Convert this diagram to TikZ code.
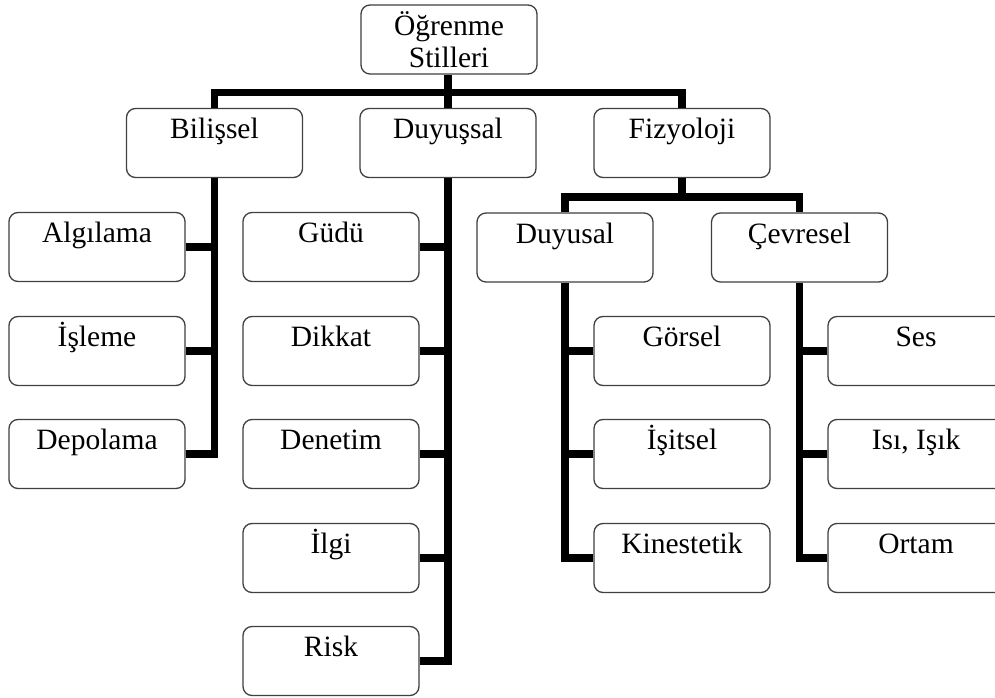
\documentclass[tikz,border=0pt]{standalone}
\usepackage{fontspec}
\setmainfont{Liberation Serif}
\begin{document}
\begin{tikzpicture}[x=1pt,y=-1pt,
  box/.style={draw=black!75, line width=1.3pt, rounded corners=9pt, fill=white,
    minimum width=176pt, minimum height=69pt, inner xsep=2pt, inner ysep=4pt,
    font=\fontsize{29.5}{32}\selectfont},
  onebox/.style={box, text height=26pt, text depth=35pt},
  conn/.style={line width=7.5pt, line join=miter, draw=black}]
\useasboundingbox (0,0) rectangle (995,698);
\clip (0,0) rectangle (995,698);
\fill[white] (0,0) rectangle (995,698);
% nodes
\node[box, align=center] (root) at (449,39.5) {Öğrenme\\Stilleri};
\node[onebox] (bil) at (214.5,143) {Bilişsel};
\node[onebox] (duy) at (448,143) {Duyuşsal};
\node[onebox] (fiz) at (682,143) {Fizyoloji};
\node[onebox] (alg) at (97,247) {Algılama};
\node[onebox] (isl) at (97,351) {İşleme};
\node[onebox] (dep) at (97,454) {Depolama};
\node[onebox] (gud) at (331,247) {Güdü};
\node[onebox] (dik) at (331,351) {Dikkat};
\node[onebox] (den) at (331,454) {Denetim};
\node[onebox] (ilg) at (331,558) {İlgi};
\node[onebox] (ris) at (331,661) {Risk};
\node[onebox] (dus) at (565,247.5) {Duyusal};
\node[onebox] (cev) at (799.5,247.5) {Çevresel};
\node[onebox] (gor) at (682,351) {Görsel};
\node[onebox] (isi) at (682,454) {İşitsel};
\node[onebox] (kin) at (682,558) {Kinestetik};
\node[onebox] (ses) at (916,351) {Ses};
\node[onebox] (isk) at (916,454) {Isı, Işık};
\node[onebox] (ort) at (916,558) {Ortam};
% bus coordinates
\coordinate (bus1) at (0,92.5);
\coordinate (bus2) at (0,197);
% top level connectors
\draw[conn] (root.south -| duy.north) -- (duy.north);
\draw[conn] (bil.north) -- (bil.north |- bus1) -- (fiz.north |- bus1) -- (fiz.north);
% Bilişsel
\draw[conn] (bil.south) |- (dep.east);
\draw[conn] (alg.east) -- (alg.east -| bil.south);
\draw[conn] (isl.east) -- (isl.east -| bil.south);
% Duyuşsal
\draw[conn] (duy.south) |- (ris.east);
\draw[conn] (gud.east) -- (gud.east -| duy.south);
\draw[conn] (dik.east) -- (dik.east -| duy.south);
\draw[conn] (den.east) -- (den.east -| duy.south);
\draw[conn] (ilg.east) -- (ilg.east -| duy.south);
% Fizyoloji
\draw[conn] (fiz.south) -- (fiz.south |- bus2);
\draw[conn] (dus.north) -- (dus.north |- bus2) -- (cev.north |- bus2) -- (cev.north);
% Duyusal
\draw[conn] (dus.south) |- (kin.west);
\draw[conn] (gor.west) -- (gor.west -| dus.south);
\draw[conn] (isi.west) -- (isi.west -| dus.south);
% Çevresel
\draw[conn] (cev.south) |- (ort.west);
\draw[conn] (ses.west) -- (ses.west -| cev.south);
\draw[conn] (isk.west) -- (isk.west -| cev.south);
\end{tikzpicture}
\end{document}
